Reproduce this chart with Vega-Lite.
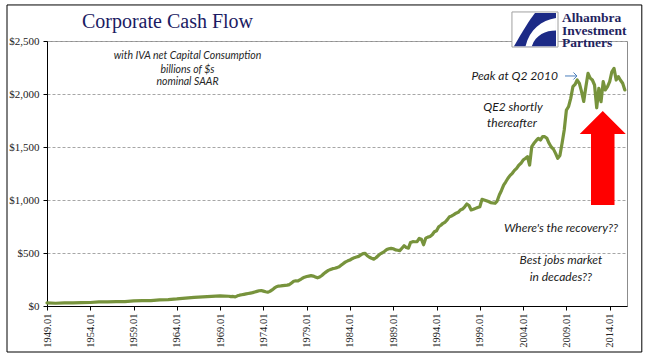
{
  "$schema": "https://vega.github.io/schema/vega-lite/v6.json",
  "width": 580,
  "height": 265,
  "autosize": "none",
  "padding": {"left": 47, "top": 41, "right": 33, "bottom": 52},
  "background": "white",
  "config": {
    "view": {"stroke": "#8c8c8c", "strokeWidth": 1}
  },
  "datasets": {
    "cash": [
      {"t": 1949, "v": 30}, {"t": 1950, "v": 26}, {"t": 1951, "v": 29}, {"t": 1952, "v": 30},
      {"t": 1953, "v": 31}, {"t": 1954, "v": 33}, {"t": 1955, "v": 38}, {"t": 1956, "v": 39},
      {"t": 1957, "v": 41}, {"t": 1958, "v": 42}, {"t": 1959, "v": 48}, {"t": 1960, "v": 50},
      {"t": 1961, "v": 51}, {"t": 1962, "v": 57}, {"t": 1963, "v": 61}, {"t": 1964, "v": 67},
      {"t": 1965, "v": 75}, {"t": 1966, "v": 82}, {"t": 1967, "v": 86}, {"t": 1968, "v": 90},
      {"t": 1969, "v": 95},
      {"t": 1970, "v": 92}, {"t": 1970.25, "v": 88}, {"t": 1970.5, "v": 90}, {"t": 1970.75, "v": 86},
      {"t": 1971, "v": 96}, {"t": 1971.25, "v": 102}, {"t": 1971.5, "v": 106}, {"t": 1971.75, "v": 110},
      {"t": 1972, "v": 114}, {"t": 1972.25, "v": 118}, {"t": 1972.5, "v": 122}, {"t": 1972.75, "v": 126},
      {"t": 1973, "v": 132}, {"t": 1973.25, "v": 138}, {"t": 1973.5, "v": 144}, {"t": 1973.75, "v": 146},
      {"t": 1974, "v": 140}, {"t": 1974.25, "v": 134}, {"t": 1974.5, "v": 130}, {"t": 1974.75, "v": 138},
      {"t": 1975, "v": 152}, {"t": 1975.25, "v": 168}, {"t": 1975.5, "v": 182}, {"t": 1975.75, "v": 188},
      {"t": 1976, "v": 190}, {"t": 1976.25, "v": 193}, {"t": 1976.5, "v": 195}, {"t": 1976.75, "v": 197},
      {"t": 1977, "v": 202}, {"t": 1977.25, "v": 218}, {"t": 1977.5, "v": 234}, {"t": 1977.75, "v": 238},
      {"t": 1978, "v": 236}, {"t": 1978.25, "v": 248}, {"t": 1978.5, "v": 262}, {"t": 1978.75, "v": 272},
      {"t": 1979, "v": 278}, {"t": 1979.25, "v": 282}, {"t": 1979.5, "v": 286}, {"t": 1979.75, "v": 282},
      {"t": 1980, "v": 274}, {"t": 1980.25, "v": 266}, {"t": 1980.5, "v": 274}, {"t": 1980.75, "v": 288},
      {"t": 1981, "v": 306}, {"t": 1981.25, "v": 322}, {"t": 1981.5, "v": 336}, {"t": 1981.75, "v": 344},
      {"t": 1982, "v": 352}, {"t": 1982.25, "v": 356}, {"t": 1982.5, "v": 362}, {"t": 1982.75, "v": 370},
      {"t": 1983, "v": 386}, {"t": 1983.25, "v": 402}, {"t": 1983.5, "v": 416}, {"t": 1983.75, "v": 426},
      {"t": 1984, "v": 434}, {"t": 1984.25, "v": 446}, {"t": 1984.5, "v": 456}, {"t": 1984.75, "v": 462},
      {"t": 1985, "v": 468}, {"t": 1985.25, "v": 482}, {"t": 1985.5, "v": 494}, {"t": 1985.75, "v": 497},
      {"t": 1986, "v": 474}, {"t": 1986.25, "v": 460}, {"t": 1986.5, "v": 450}, {"t": 1986.75, "v": 442},
      {"t": 1987, "v": 455}, {"t": 1987.25, "v": 474}, {"t": 1987.5, "v": 492}, {"t": 1987.75, "v": 502},
      {"t": 1988, "v": 516}, {"t": 1988.25, "v": 532}, {"t": 1988.5, "v": 540}, {"t": 1988.75, "v": 544},
      {"t": 1989, "v": 540}, {"t": 1989.25, "v": 530}, {"t": 1989.5, "v": 526}, {"t": 1989.75, "v": 522},
      {"t": 1990, "v": 545}, {"t": 1990.25, "v": 569}, {"t": 1990.5, "v": 552}, {"t": 1990.75, "v": 546},
      {"t": 1991, "v": 600}, {"t": 1991.25, "v": 607}, {"t": 1991.5, "v": 606}, {"t": 1991.75, "v": 607},
      {"t": 1992, "v": 638}, {"t": 1992.25, "v": 630}, {"t": 1992.5, "v": 578}, {"t": 1992.75, "v": 640},
      {"t": 1993, "v": 650}, {"t": 1993.25, "v": 656}, {"t": 1993.5, "v": 672}, {"t": 1993.75, "v": 700},
      {"t": 1994, "v": 710}, {"t": 1994.25, "v": 748}, {"t": 1994.5, "v": 762}, {"t": 1994.75, "v": 780},
      {"t": 1995, "v": 792}, {"t": 1995.25, "v": 815}, {"t": 1995.5, "v": 843}, {"t": 1995.75, "v": 850},
      {"t": 1996, "v": 862}, {"t": 1996.25, "v": 876}, {"t": 1996.5, "v": 884}, {"t": 1996.75, "v": 906},
      {"t": 1997, "v": 915}, {"t": 1997.25, "v": 936}, {"t": 1997.5, "v": 962}, {"t": 1997.75, "v": 948},
      {"t": 1998, "v": 906}, {"t": 1998.25, "v": 912}, {"t": 1998.5, "v": 921}, {"t": 1998.75, "v": 930},
      {"t": 1999, "v": 937}, {"t": 1999.25, "v": 1006}, {"t": 1999.5, "v": 1000}, {"t": 1999.75, "v": 993},
      {"t": 2000, "v": 985}, {"t": 2000.25, "v": 975}, {"t": 2000.5, "v": 972}, {"t": 2000.75, "v": 969},
      {"t": 2001, "v": 990}, {"t": 2001.25, "v": 1047}, {"t": 2001.5, "v": 1090}, {"t": 2001.75, "v": 1141},
      {"t": 2002, "v": 1172}, {"t": 2002.25, "v": 1205}, {"t": 2002.5, "v": 1232}, {"t": 2002.75, "v": 1252},
      {"t": 2003, "v": 1280}, {"t": 2003.25, "v": 1299}, {"t": 2003.5, "v": 1328}, {"t": 2003.75, "v": 1346},
      {"t": 2004, "v": 1377}, {"t": 2004.25, "v": 1392}, {"t": 2004.5, "v": 1409}, {"t": 2004.75, "v": 1330},
      {"t": 2005, "v": 1503}, {"t": 2005.25, "v": 1535}, {"t": 2005.5, "v": 1560}, {"t": 2005.75, "v": 1582},
      {"t": 2006, "v": 1566}, {"t": 2006.25, "v": 1597}, {"t": 2006.5, "v": 1597}, {"t": 2006.75, "v": 1582},
      {"t": 2007, "v": 1535}, {"t": 2007.25, "v": 1500}, {"t": 2007.5, "v": 1480}, {"t": 2007.75, "v": 1440},
      {"t": 2008, "v": 1393}, {"t": 2008.25, "v": 1420}, {"t": 2008.5, "v": 1535}, {"t": 2008.75, "v": 1660},
      {"t": 2009, "v": 1849}, {"t": 2009.25, "v": 1880}, {"t": 2009.5, "v": 1959}, {"t": 2009.75, "v": 2069},
      {"t": 2010, "v": 2090}, {"t": 2010.25, "v": 2132}, {"t": 2010.5, "v": 2101}, {"t": 2010.75, "v": 2022},
      {"t": 2011, "v": 1930}, {"t": 2011.25, "v": 2069}, {"t": 2011.5, "v": 2195}, {"t": 2011.75, "v": 2150},
      {"t": 2012, "v": 2132}, {"t": 2012.25, "v": 2085}, {"t": 2012.5, "v": 1870}, {"t": 2012.75, "v": 2054},
      {"t": 2013, "v": 1927}, {"t": 2013.25, "v": 2116}, {"t": 2013.5, "v": 2038}, {"t": 2013.75, "v": 2069},
      {"t": 2014, "v": 2116}, {"t": 2014.25, "v": 2210}, {"t": 2014.5, "v": 2242}, {"t": 2014.75, "v": 2132},
      {"t": 2015, "v": 2164}, {"t": 2015.25, "v": 2130}, {"t": 2015.5, "v": 2101}, {"t": 2015.75, "v": 2038}
    ],
    "frame": [{"t0": 1944.38, "t1": 2017.71, "v0": -434, "v1": 2840}],
    "logobox": [{"t0": 2002.71, "t1": 2008.03, "v0": 2443, "v1": 2774}],
    "logomark": [{"t": 2005.37, "v": 2608}],
    "logotext": [
      {"t": 2008.49, "v": 2682, "label": "Alhambra"},
      {"t": 2008.49, "v": 2557, "label": "Investment"},
      {"t": 2008.49, "v": 2446, "label": "Partners"}
    ],
    "title": [{"t": 1962.92, "v": 2620, "label": "Corporate Cash Flow"}],
    "subtitle": [
      {"t": 1965.23, "v": 2358, "label": "with IVA net Capital Consumption"},
      {"t": 1965.23, "v": 2231, "label": "billions of $s"},
      {"t": 1965.23, "v": 2113, "label": "nominal SAAR"}
    ],
    "notes": [
      {"t": 2002.83, "v": 1877, "label": "QE2 shortly"},
      {"t": 2002.71, "v": 1726, "label": "thereafter"},
      {"t": 2008.37, "v": 736, "label": "Where's the recovery??"},
      {"t": 2008.37, "v": 434, "label": "Best jobs market"},
      {"t": 2008.37, "v": 274, "label": "in decades??"}
    ],
    "peak": [{"t": 2008.03, "v": 2170, "label": "Peak at Q2 2010"}],
    "bluearrow": [{"t0": 2008.84, "t1": 2010.22, "v": 2170}],
    "redarrow": [{"t": 2013.2, "v": 1396}]
  },
  "layer": [
    {
      "data": {"name": "cash"},
      "mark": {"type": "line", "color": "#77933c", "strokeWidth": 3.2, "strokeJoin": "round", "strokeCap": "round"},
      "encoding": {
        "x": {
          "field": "t", "type": "quantitative", "title": null,
          "scale": {"domain": [1949, 2016], "nice": false, "zero": false},
          "axis": {
            "values": [1949, 1954, 1959, 1964, 1969, 1974, 1979, 1984, 1989, 1994, 1999, 2004, 2009, 2014],
            "labelExpr": "datum.value + '.01'",
            "labelAngle": -90, "labelFont": "Liberation Serif", "labelFontSize": 10.5, "labelColor": "#222222",
            "labelPadding": 3, "tickSize": 4, "tickColor": "#000000", "domainColor": "#000000",
            "grid": false, "labelOverlap": false
          }
        },
        "y": {
          "field": "v", "type": "quantitative", "title": null,
          "scale": {"domain": [0, 2500], "nice": false},
          "axis": {
            "values": [0, 500, 1000, 1500, 2000, 2500], "format": "$,.0f",
            "labelFont": "Liberation Serif", "labelFontSize": 11, "labelColor": "#222222",
            "labelPadding": 4, "tickSize": 4, "tickColor": "#000000", "domainColor": "#000000",
            "grid": true, "gridColor": "#a6a6a6", "gridDash": [3, 2]
          }
        }
      }
    },
    {
      "data": {"name": "frame"},
      "mark": {"type": "rect", "filled": false, "color": "#000000", "strokeWidth": 1},
      "encoding": {
        "x": {"field": "t0", "type": "quantitative", "title": null},
        "x2": {"field": "t1"},
        "y": {"field": "v0", "type": "quantitative", "title": null},
        "y2": {"field": "v1"}
      }
    },
    {
      "data": {"name": "logobox"},
      "mark": {"type": "rect", "fill": "#ffffff", "stroke": "#a0a0a0", "strokeWidth": 1},
      "encoding": {
        "x": {"field": "t0", "type": "quantitative", "title": null},
        "x2": {"field": "t1"},
        "y": {"field": "v0", "type": "quantitative", "title": null},
        "y2": {"field": "v1"}
      }
    },
    {
      "data": {"name": "logomark"},
      "mark": {"type": "point", "filled": true, "opacity": 1, "color": "#1c2a86", "size": 1764,
        "shape": "M0,-0.79 L1,-0.79 L1,0.79 L-1,0.79 C-0.6,0.1 -0.3,-0.4 0,-0.79 Z"},
      "encoding": {
        "x": {"field": "t", "type": "quantitative", "title": null},
        "y": {"field": "v", "type": "quantitative", "title": null}
      }
    },
    {
      "data": {"name": "logomark"},
      "mark": {"type": "point", "filled": true, "opacity": 1, "color": "#ffffff", "size": 1764,
        "shape": "M1,-0.55 C0.3,-0.45 -0.25,0 -0.45,0.79 L-0.15,0.79 C0.05,0.25 0.5,0.05 1,0.05 Z"},
      "encoding": {
        "x": {"field": "t", "type": "quantitative", "title": null},
        "y": {"field": "v", "type": "quantitative", "title": null}
      }
    },
    {
      "data": {"name": "logotext"},
      "mark": {"type": "text", "align": "left", "baseline": "alphabetic", "font": "Liberation Serif", "fontSize": 13.5, "fontWeight": "bold", "color": "#1f2460"},
      "encoding": {
        "x": {"field": "t", "type": "quantitative", "title": null},
        "y": {"field": "v", "type": "quantitative", "title": null},
        "text": {"field": "label"}
      }
    },
    {
      "data": {"name": "title"},
      "mark": {"type": "text", "align": "center", "baseline": "alphabetic", "font": "Liberation Serif", "fontSize": 20, "color": "#1b1b63"},
      "encoding": {
        "x": {"field": "t", "type": "quantitative", "title": null},
        "y": {"field": "v", "type": "quantitative", "title": null},
        "text": {"field": "label"}
      }
    },
    {
      "data": {"name": "subtitle"},
      "mark": {"type": "text", "align": "center", "baseline": "middle", "font": "Lato", "fontSize": 10.5, "fontStyle": "italic", "color": "#262626"},
      "encoding": {
        "x": {"field": "t", "type": "quantitative", "title": null},
        "y": {"field": "v", "type": "quantitative", "title": null},
        "text": {"field": "label"}
      }
    },
    {
      "data": {"name": "notes"},
      "mark": {"type": "text", "align": "center", "baseline": "middle", "font": "Lato", "fontSize": 12, "fontStyle": "italic", "color": "#1a1a1a"},
      "encoding": {
        "x": {"field": "t", "type": "quantitative", "title": null},
        "y": {"field": "v", "type": "quantitative", "title": null},
        "text": {"field": "label"}
      }
    },
    {
      "data": {"name": "peak"},
      "mark": {"type": "text", "align": "right", "baseline": "middle", "font": "Lato", "fontSize": 12, "fontStyle": "italic", "color": "#1a1a1a"},
      "encoding": {
        "x": {"field": "t", "type": "quantitative", "title": null},
        "y": {"field": "v", "type": "quantitative", "title": null},
        "text": {"field": "label"}
      }
    },
    {
      "data": {"name": "bluearrow"},
      "mark": {"type": "rule", "color": "#4a7ebb", "strokeWidth": 1},
      "encoding": {
        "x": {"field": "t0", "type": "quantitative", "title": null},
        "x2": {"field": "t1"},
        "y": {"field": "v", "type": "quantitative", "title": null}
      }
    },
    {
      "data": {"name": "bluearrow"},
      "mark": {"type": "point", "filled": false, "opacity": 1, "color": "#4a7ebb", "strokeWidth": 1, "size": 49, "shape": "M-1,-1 L0,0 L-1,1"},
      "encoding": {
        "x": {"field": "t1", "type": "quantitative", "title": null},
        "y": {"field": "v", "type": "quantitative", "title": null}
      }
    },
    {
      "data": {"name": "redarrow"},
      "mark": {"type": "point", "filled": true, "opacity": 1, "color": "#ff0000", "size": 8836,
        "shape": "M0,-1 L0.49,-0.51 L0.25,-0.51 L0.25,1 L-0.25,1 L-0.25,-0.51 L-0.49,-0.51 Z"},
      "encoding": {
        "x": {"field": "t", "type": "quantitative", "title": null},
        "y": {"field": "v", "type": "quantitative", "title": null}
      }
    }
  ]
}
